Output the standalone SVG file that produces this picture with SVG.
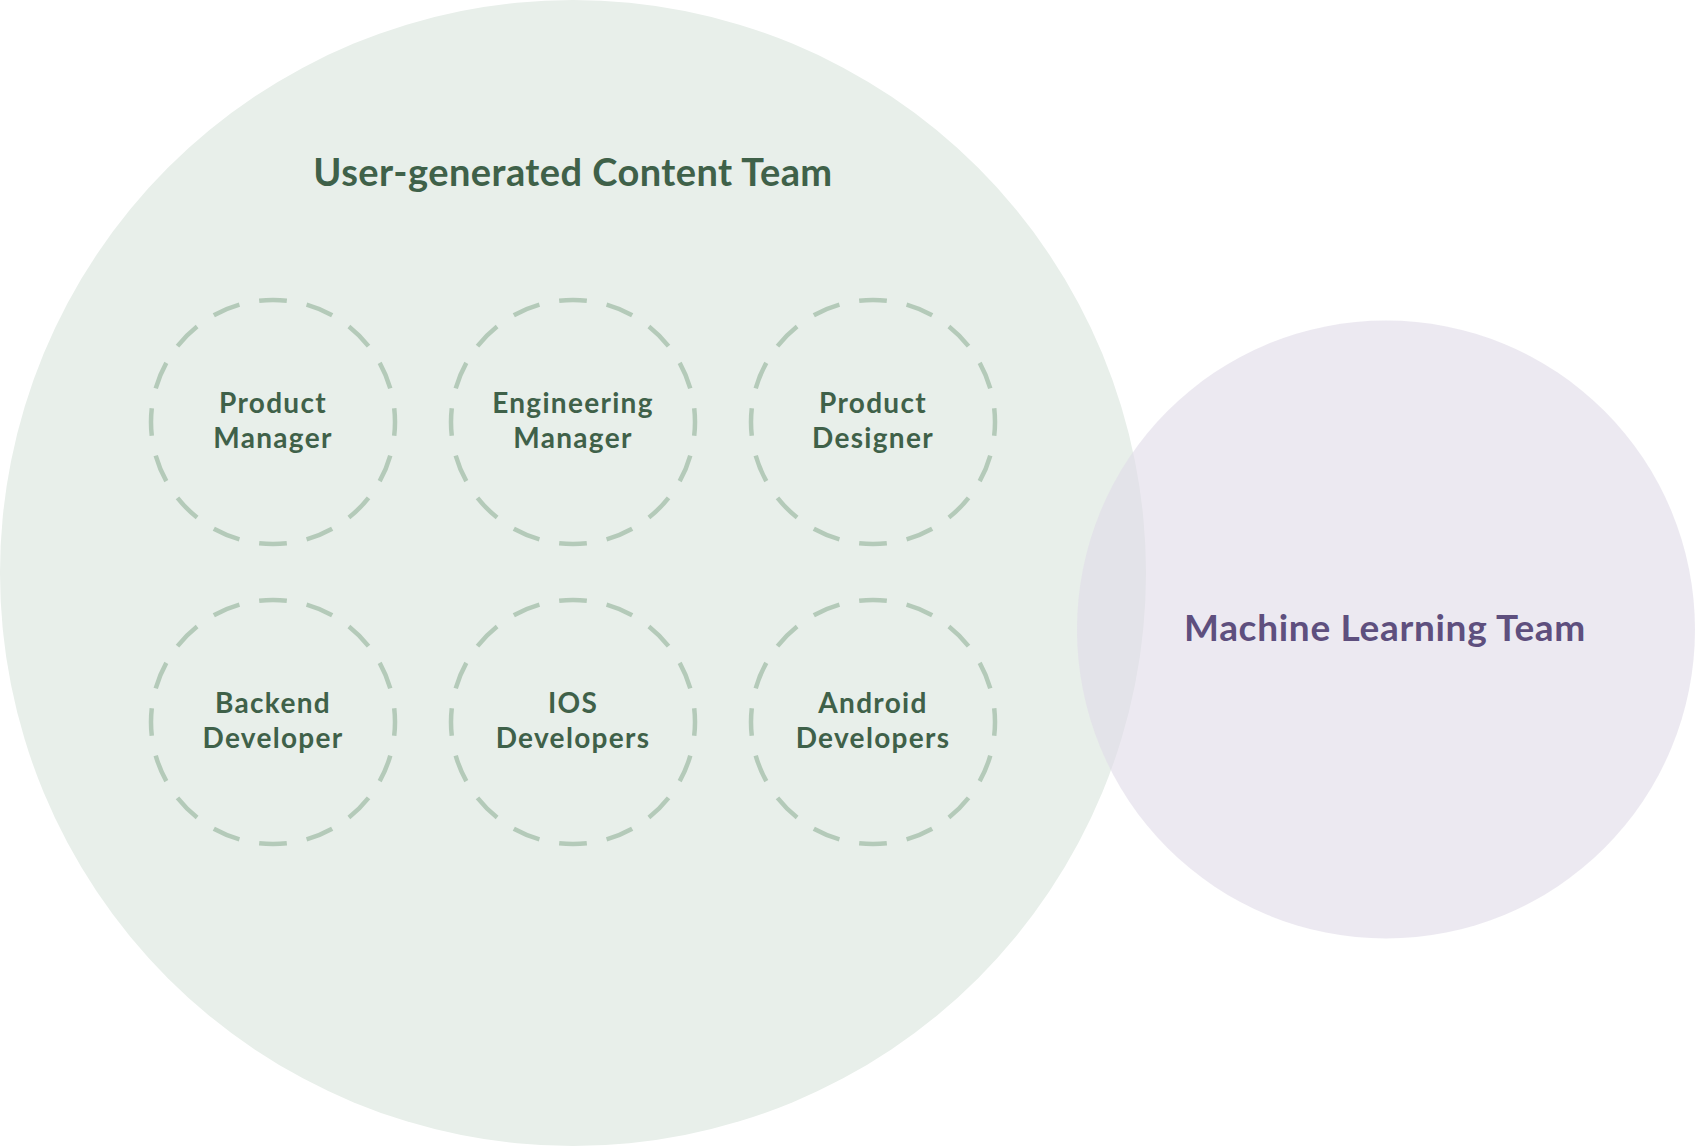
<svg xmlns="http://www.w3.org/2000/svg" width="1695" height="1146" viewBox="0 0 1695 1146">
<style>
.team{font-family:Lato,"Noto Sans",sans-serif;font-weight:700;text-anchor:middle}
.role{fill:none;stroke:#B4CAB9;stroke-width:4.5;stroke-dasharray:5.8 4.2;stroke-dashoffset:2.9}
.rt{font-family:Lato,"Noto Sans",sans-serif;font-weight:700;font-size:28px;letter-spacing:1.3px;fill:#3F6149;text-anchor:middle}
</style>
<rect width="1695" height="1146" fill="#FFFFFF"/>
<g id="ugc-team">
<circle cx="573" cy="573" r="573" fill="#E8EFEA"/>
<text class="team" x="573" y="186" font-size="38" letter-spacing="0.45" fill="#3F6149">User-generated Content Team</text>
</g>
<g id="ml-team">
<circle cx="1386" cy="629.5" r="309" fill="#E0DBE8" fill-opacity="0.61"/>
<text class="team" x="1385" y="641" font-size="37" letter-spacing="0.7" fill="#5E4F7E">Machine Learning Team</text>
</g>
<g id="product-manager">
<circle class="role" cx="273" cy="422" r="122" pathLength="160"/>
<text class="rt" x="273" y="413">Product</text>
<text class="rt" x="273" y="448">Manager</text>
</g>
<g id="engineering-manager">
<circle class="role" cx="573" cy="422" r="122" pathLength="160"/>
<text class="rt" x="573" y="413">Engineering</text>
<text class="rt" x="573" y="448">Manager</text>
</g>
<g id="product-designer">
<circle class="role" cx="873" cy="422" r="122" pathLength="160"/>
<text class="rt" x="873" y="413">Product</text>
<text class="rt" x="873" y="448">Designer</text>
</g>
<g id="backend-developer">
<circle class="role" cx="273" cy="722" r="122" pathLength="160"/>
<text class="rt" x="273" y="713">Backend</text>
<text class="rt" x="273" y="748">Developer</text>
</g>
<g id="ios-developers">
<circle class="role" cx="573" cy="722" r="122" pathLength="160"/>
<text class="rt" x="573" y="713">IOS</text>
<text class="rt" x="573" y="748">Developers</text>
</g>
<g id="android-developers">
<circle class="role" cx="873" cy="722" r="122" pathLength="160"/>
<text class="rt" x="873" y="713">Android</text>
<text class="rt" x="873" y="748">Developers</text>
</g>
<g id="connectors"></g>
</svg>
